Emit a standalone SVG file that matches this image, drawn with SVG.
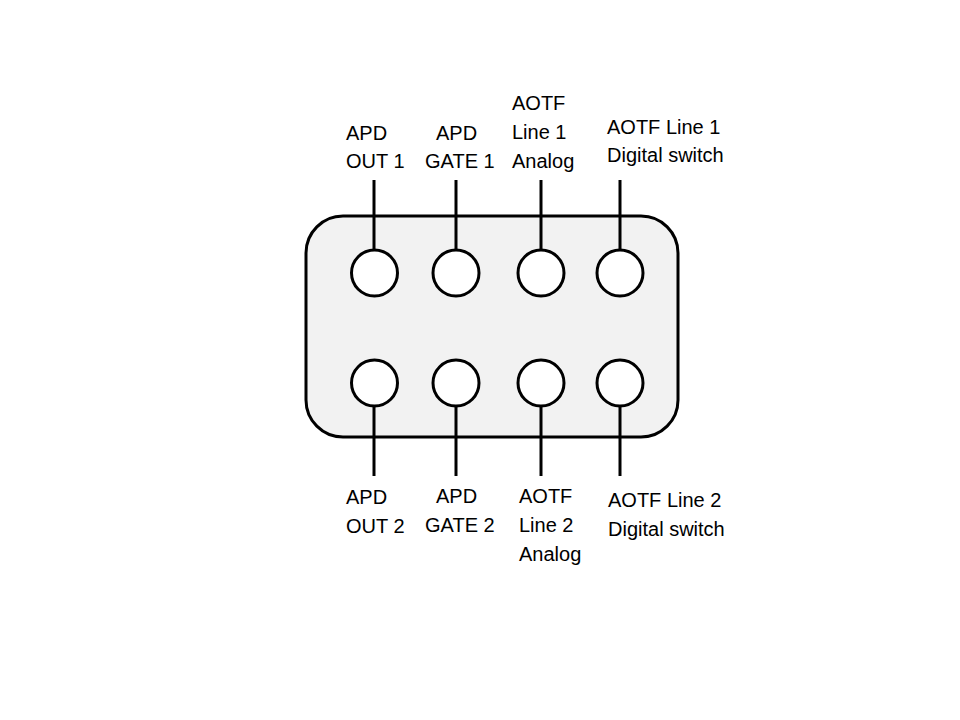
<svg xmlns="http://www.w3.org/2000/svg" width="960" height="720" viewBox="0 0 960 720">
<style>
.box{fill:#f2f2f2;stroke:#000;stroke-width:3}
.pin{fill:#fff;stroke:#000;stroke-width:3}
.wire{stroke:#000;stroke-width:3;fill:none}
text{font-family:"Liberation Sans",Arial,sans-serif;font-size:20px;fill:#000}
</style>
<rect width="960" height="720" fill="#fff"/>
<g id="connector-body">
<rect class="box" x="306" y="216" width="372" height="221" rx="37" ry="37"/>
</g>
<g id="connectors">
<line class="wire" x1="374" y1="180" x2="374" y2="250"/>
<line class="wire" x1="456" y1="180" x2="456" y2="250"/>
<line class="wire" x1="541" y1="180" x2="541" y2="250"/>
<line class="wire" x1="620" y1="180" x2="620" y2="250"/>
<line class="wire" x1="374" y1="406" x2="374" y2="476"/>
<line class="wire" x1="456" y1="406" x2="456" y2="476"/>
<line class="wire" x1="541" y1="406" x2="541" y2="476"/>
<line class="wire" x1="620" y1="406" x2="620" y2="476"/>
</g>
<g id="pin-apd-out1"><circle class="pin" cx="374.5" cy="273" r="23"/><text x="346" y="140">APD</text><text x="346" y="168">OUT 1</text></g>
<g id="pin-apd-gate1"><circle class="pin" cx="456" cy="273" r="23"/><text x="436" y="140">APD</text><text x="425" y="168">GATE 1</text></g>
<g id="pin-aotf-line1-analog"><circle class="pin" cx="541" cy="273" r="23"/><text x="512" y="110">AOTF</text><text x="512" y="139">Line 1</text><text x="512" y="168">Analog</text></g>
<g id="pin-aotf-line1-digital"><circle class="pin" cx="620" cy="273" r="23"/><text x="607" y="134">AOTF Line 1</text><text x="607" y="162">Digital switch</text></g>
<g id="pin-apd-out2"><circle class="pin" cx="374.5" cy="383" r="23"/><text x="346" y="504">APD</text><text x="346" y="533">OUT 2</text></g>
<g id="pin-apd-gate2"><circle class="pin" cx="456" cy="383" r="23"/><text x="436" y="503">APD</text><text x="425" y="532">GATE 2</text></g>
<g id="pin-aotf-line2-analog"><circle class="pin" cx="541" cy="383" r="23"/><text x="519" y="503">AOTF</text><text x="519" y="532">Line 2</text><text x="519" y="561">Analog</text></g>
<g id="pin-aotf-line2-digital"><circle class="pin" cx="620" cy="383" r="23"/><text x="608" y="507">AOTF Line 2</text><text x="608" y="536">Digital switch</text></g>
</svg>
